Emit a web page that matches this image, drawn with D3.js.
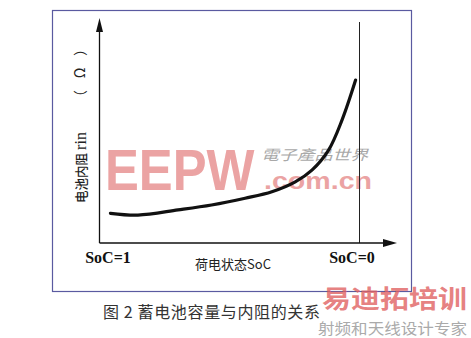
<!DOCTYPE html>
<html><head><meta charset="utf-8">
<script src="https://cdn.jsdelivr.net/npm/d3@7"></script>
<style>html,body{margin:0;padding:0;background:#fff;}svg{display:block;}</style>
</head><body>
<svg id="c" width="471" height="338"></svg>
<script>
// Data (arbitrary resistance units 0..1)
const soc = [0.958, 0.852, 0.698, 0.569, 0.440, 0.337, 0.247, 0.183, 0.119, 0.067, 0.015];
const rin = [0.132, 0.124, 0.147, 0.169, 0.199, 0.228, 0.272, 0.324, 0.413, 0.547, 0.724];
const xLabels = ["SoC=1", "SoC=0"];
const xLabelValues = [1, 0];
const xTitle = "荷电状态SoC";
const yTitle = ["电池内阻", "rin", "（Ω）"];
const caption = "图 2 蓄电池容量与内阻的关系";

const svg = d3.select("#c");
const x = d3.scaleLinear().domain([1, 0]).range([99.5, 359.5]);
const y = d3.scaleLinear().domain([0, 1]).range([243, 18]);

// frame
svg.append("rect").attr("x", 52.5).attr("y", 10.5).attr("width", 359).attr("height", 281)
  .attr("fill", "none").attr("stroke", "#5a5aa0").attr("stroke-width", 1.2);

// watermarks (behind)
const wm = svg.append("g");
wm.append("text").attr("transform", "translate(105,190) scale(0.875,1)")
  .attr("font-family", "Liberation Sans, Arial, sans-serif")
  .attr("font-weight", "bold").attr("font-size", 58).attr("fill", "#eba3a3").text("EEPW");
wm.append("text").attr("x", 261).attr("y", 160).attr("font-family", "Noto Sans CJK TC, sans-serif")
  .attr("font-style", "italic").attr("font-size", 14).attr("fill", "#a8a8a8")
  .attr("textLength", 107).attr("lengthAdjust", "spacingAndGlyphs").text("電子產品世界");
wm.append("text").attr("x", 264).attr("y", 189).attr("font-family", "Liberation Sans, Arial, sans-serif")
  .attr("font-weight", "bold").attr("font-size", 24).attr("fill", "#eba3a3")
  .attr("textLength", 108).attr("lengthAdjust", "spacingAndGlyphs").text(".com.cn");

// vertical SoC=0 line
svg.append("line").attr("x1", x(0)).attr("x2", x(0)).attr("y1", 22).attr("y2", y(0))
  .attr("stroke", "#222").attr("stroke-width", 1);

// axes
svg.append("line").attr("x1", x(1)).attr("x2", x(1)).attr("y1", y(0)).attr("y2", 30)
  .attr("stroke", "#111").attr("stroke-width", 1.3);
svg.append("line").attr("x1", x(1)).attr("x2", 386).attr("y1", y(0)).attr("y2", y(0))
  .attr("stroke", "#111").attr("stroke-width", 1.3);
svg.append("path").attr("d", `M${x(1)},18 L${x(1)-3.5},32 L${x(1)+3.5},32 Z`).attr("fill", "#111");
svg.append("path").attr("d", `M397,${y(0)} L383,${y(0)-4} L383,${y(0)+4} Z`).attr("fill", "#111");

// curve
const pts = soc.map((s, i) => [s, rin[i]]);
svg.append("path").datum(pts)
  .attr("d", d3.line().x(d => x(d[0])).y(d => y(d[1])).curve(d3.curveCatmullRom.alpha(0.5)))
  .attr("fill", "none").attr("stroke", "#111").attr("stroke-width", 3.2).attr("stroke-linecap", "round");

// x labels
svg.selectAll("text.xl").data(xLabels).enter().append("text").attr("class", "xl")
  .attr("x", (d, i) => i === 0 ? 108 : 352).attr("y", 263).attr("text-anchor", "middle")
  .attr("font-family", "Liberation Serif, Times New Roman, serif").attr("font-weight", "bold")
  .attr("font-size", 16).attr("fill", "#111").text(d => d);
svg.append("text").attr("x", 233).attr("y", 269).attr("text-anchor", "middle")
  .attr("font-family", "Noto Sans CJK SC, sans-serif").attr("font-size", 13).attr("fill", "#222")
  .text(xTitle);

// y title (rotated)
const yt = svg.append("g").attr("transform", "translate(86,0)");
yt.append("text").attr("transform", "translate(0,178) rotate(-90)").attr("text-anchor", "middle")
  .attr("font-family", "Noto Sans CJK SC, sans-serif").attr("font-weight", 500).attr("font-size", 13)
  .attr("fill", "#222").attr("textLength", 50).attr("lengthAdjust", "spacingAndGlyphs").text(yTitle[0]);
yt.append("text").attr("transform", "translate(0,141) rotate(-90)").attr("text-anchor", "middle")
  .attr("font-family", "Liberation Serif, Times New Roman, serif").attr("font-size", 16)
  .attr("fill", "#222").text(yTitle[1]);
yt.append("text").attr("transform", "translate(-1,73) rotate(-90)").attr("text-anchor", "middle")
  .attr("font-family", "Noto Sans CJK SC, sans-serif").attr("font-size", 14)
  .attr("fill", "#222").attr("textLength", 62).attr("lengthAdjust", "spacing").text(yTitle[2]);

// caption
svg.append("text").attr("x", 103).attr("y", 318)
  .attr("font-family", "Noto Sans CJK SC, sans-serif").attr("font-size", 16).attr("fill", "#333")
  .attr("textLength", 217).attr("lengthAdjust", "spacing").text(caption);

// bottom-right watermark
svg.append("text").attr("x", 322).attr("y", 308).attr("font-family", "Noto Sans CJK SC, sans-serif")
  .attr("font-weight", "bold").attr("font-size", 25).attr("fill", "#e06060").attr("fill-opacity", 0.8)
  .attr("textLength", 145).attr("lengthAdjust", "spacingAndGlyphs").text("易迪拓培训");
svg.append("text").attr("x", 318).attr("y", 334).attr("font-family", "Noto Sans CJK SC, sans-serif")
  .attr("font-size", 15).attr("fill", "#aaa")
  .attr("textLength", 149).attr("lengthAdjust", "spacingAndGlyphs").text("射频和天线设计专家");
</script>
</body></html>
